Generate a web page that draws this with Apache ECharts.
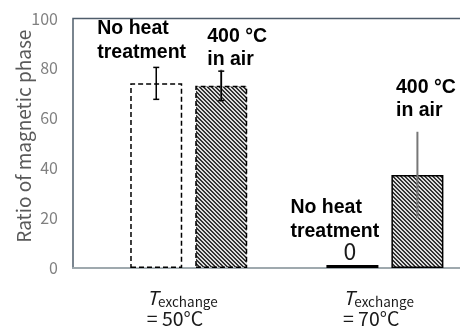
<!DOCTYPE html>
<html>
<head>
<meta charset="utf-8">
<script src="https://cdn.jsdelivr.net/npm/echarts@6/dist/echarts.min.js"></script>
<style>
  html, body { margin: 0; padding: 0; background: #fff; }
  #chart { width: 460px; height: 327px; }
</style>
</head>
<body>
<div id="chart"></div>
<script>
// Exchange temperatures (one group per temperature) and their positions on the x scale
const groupPositions = [0, 1];
const exchangeTemps = ['50°C', '70°C'];

// Ratio of magnetic phase (%)
const noHeatValues = [74, 0];
const airValues = [73, 37.3];

// Error bars: black capped bars and grey spread bars
const noHeatErr = [6.4, null];
const airErr = [5.9, null];
const airSpread = [6.5, 17.3];

// Bar annotations
const noHeatText = 'No heat\ntreatment';
const airText = '400 °C\nin air';

// Y axis scale
const yMin = 0, yMax = 100, yStep = 20;

// ---- styling ----
const BAR_W = 52;
const GAP_RATIO = 0.25;
const HALF_SHIFT = (BAR_W + BAR_W * GAP_RATIO) / 2;
const LABEL_FONT = 'Liberation Sans, Arial, sans-serif';
const CJK_FONT = 'Noto Sans CJK JP, Noto Sans, sans-serif';

function hatchPattern() {
  const c = document.createElement('canvas');
  c.width = 4; c.height = 4;
  const g = c.getContext('2d');
  g.fillStyle = '#dcdcdc';
  g.fillRect(0, 0, 4, 4);
  g.fillStyle = '#333333';
  for (let i = 0; i < 4; i++) {
    g.fillRect(i, i, 1, 1);
    g.fillRect((i + 1) % 4, i, 1, 1);
  }
  return c;
}
const hatch = { image: hatchPattern(), repeat: 'repeat' };

const noHeatStyles = [
  { color: '#ffffff', borderColor: '#000', borderWidth: 1.5, borderType: [5, 3] },
  { color: '#000000', borderWidth: 0 }
];
const airStyles = [
  { color: hatch, borderColor: '#000', borderWidth: 1.5, borderType: [5, 3] },
  { color: hatch, borderColor: '#000', borderWidth: 1.5, borderType: 'solid' }
];
const noHeatLabelOffsets = [[-59, -19.2], [-62, -5.7]];
const airLabelOffsets = [[-14, -14.4], [-21.4, -52.4]];

const labelBase = {
  show: true,
  position: 'top',
  distance: 0,
  align: 'left',
  verticalAlign: 'bottom',
  fontFamily: LABEL_FONT,
  fontWeight: 'bold',
  fontSize: 19.5,
  lineHeight: 23.5,
  color: '#000'
};

const noHeatData = noHeatValues.map((v, i) => ({
  value: [groupPositions[i], v],
  itemStyle: noHeatStyles[i],
  label: Object.assign({}, labelBase, {
    offset: noHeatLabelOffsets[i],
    formatter: (p) => p.value[1] === 0 ? noHeatText + '\n{z|' + p.value[1] + '}' : noHeatText,
    rich: {
      z: {
        fontFamily: CJK_FONT, fontWeight: 'normal', fontSize: 23,
        lineHeight: 16, align: 'center', padding: [0, 0, 0, 30], color: '#1a1a1a'
      }
    }
  })
}));
const airData = airValues.map((v, i) => ({
  value: [groupPositions[i], v],
  itemStyle: airStyles[i],
  label: Object.assign({}, labelBase, { offset: airLabelOffsets[i], formatter: airText })
}));

function errorRows(values, errs) {
  const rows = [];
  values.forEach((v, i) => {
    if (errs[i] != null) rows.push([groupPositions[i], v, errs[i]]);
  });
  return rows;
}

function errorRenderer(shift, color, width, cap) {
  return function (params, api) {
    const x = api.value(0), y = api.value(1), e = api.value(2);
    const top = api.coord([x, y + e]);
    const bot = api.coord([x, y - e]);
    const cx = top[0] + shift;
    const children = [{
      type: 'line',
      shape: { x1: cx, y1: top[1], x2: cx, y2: bot[1] },
      style: { stroke: color, lineWidth: width }
    }];
    if (cap > 0) {
      children.push(
        { type: 'line', shape: { x1: cx - cap, y1: top[1], x2: cx + cap, y2: top[1] }, style: { stroke: color, lineWidth: width } },
        { type: 'line', shape: { x1: cx - cap, y1: bot[1], x2: cx + cap, y2: bot[1] }, style: { stroke: color, lineWidth: width } }
      );
    }
    return { type: 'group', children: children };
  };
}

const chart = echarts.init(document.getElementById('chart'), null, { renderer: 'canvas' });
chart.setOption({
  animation: false,
  backgroundColor: '#ffffff',
  grid: {
    left: 73, top: 18.5, width: 410, bottom: 59,
    outerBoundsMode: 'none',
    containLabel: false,
    show: true, borderColor: '#4f5d6b', borderWidth: 1.5, backgroundColor: 'transparent'
  },
  xAxis: {
    type: 'value',
    min: -0.59, max: 1.5,
    splitLine: { show: false },
    axisTick: { show: false },
    axisLine: { show: true, lineStyle: { color: '#9fa9ae', width: 2 } },
    axisLabel: {
      customValues: groupPositions,
      margin: 19,
      padding: [0, 13, 0, 0],
      formatter: (v) => {
        const i = groupPositions.indexOf(v);
        return '{t|T}{s|exchange}\n{e|= ' + exchangeTemps[i] + '}';
      },
      rich: {
        t: { fontFamily: CJK_FONT, fontStyle: 'italic', fontSize: 19, lineHeight: 22, color: '#1a1a1a', align: 'left' },
        s: { fontFamily: CJK_FONT, fontSize: 13.5, lineHeight: 15, verticalAlign: 'bottom', color: '#1a1a1a', align: 'left' },
        e: { fontFamily: CJK_FONT, fontSize: 19.5, lineHeight: 18.4, color: '#1a1a1a', align: 'left' }
      }
    }
  },
  yAxis: {
    type: 'value',
    min: yMin, max: yMax, interval: yStep,
    name: 'Ratio of magnetic phase',
    nameLocation: 'middle',
    nameGap: 40,
    nameMoveOverlap: false,
    nameRotate: 90,
    nameTextStyle: { fontFamily: CJK_FONT, fontSize: 19, color: '#595959', padding: [0, 0, 0, 14] },
    splitLine: { show: false },
    axisTick: { show: false },
    axisLine: { show: false, onZero: false },
    axisLabel: { fontFamily: CJK_FONT, fontSize: 16, color: '#808080', margin: 15 }
  },
  series: [
    {
      name: 'No heat treatment',
      type: 'bar',
      barWidth: BAR_W,
      barGap: (GAP_RATIO * 100) + '%',
      barMinHeight: 3,
      data: noHeatData,
      z: 2
    },
    {
      name: '400 °C in air',
      type: 'bar',
      barWidth: BAR_W,
      barGap: (GAP_RATIO * 100) + '%',
      data: airData,
      z: 2
    },
    {
      type: 'custom',
      renderItem: errorRenderer(HALF_SHIFT, '#777777', 2, 0),
      data: errorRows(airValues, airSpread),
      encode: { x: 0, y: 1 },
      clip: false,
      z: 3
    },
    {
      type: 'custom',
      renderItem: errorRenderer(-HALF_SHIFT, '#000000', 1.5, 3),
      data: errorRows(noHeatValues, noHeatErr),
      encode: { x: 0, y: 1 },
      clip: false,
      z: 4
    },
    {
      type: 'custom',
      renderItem: errorRenderer(HALF_SHIFT, '#000000', 1.5, 3),
      data: errorRows(airValues, airErr),
      encode: { x: 0, y: 1 },
      clip: false,
      z: 4
    }
  ]
});
</script>
</body>
</html>
